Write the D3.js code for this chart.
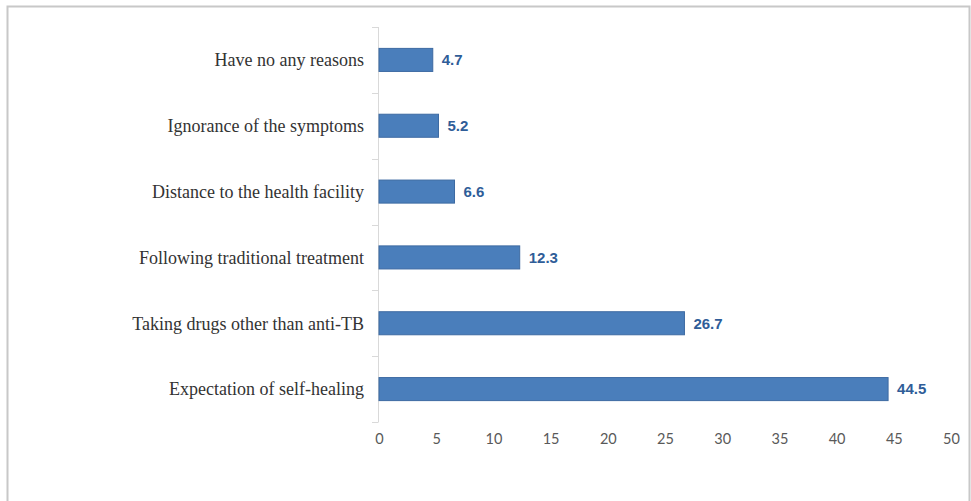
<!DOCTYPE html>
<html>
<head>
<meta charset="utf-8">
<script src="https://cdn.jsdelivr.net/npm/d3@7"></script>
<style>
  html, body { margin: 0; padding: 0; background: #fff; }
  svg { display: block; }
</style>
</head>
<body>
<svg id="chart" width="971" height="501"></svg>
<script>
// Reasons for delay, listed top to bottom
const categories = [
  "Have no any reasons",
  "Ignorance of the symptoms",
  "Distance to the health facility",
  "Following traditional treatment",
  "Taking drugs other than anti-TB",
  "Expectation of self-healing"
];
const values = [4.7, 5.2, 6.6, 12.3, 26.7, 44.5];
const xTicks = [0, 5, 10, 15, 20, 25, 30, 35, 40, 45, 50];

const svg = d3.select("#chart");
const W = 971, H = 501;

// frame
svg.append("rect").attr("x", 0).attr("y", 0).attr("width", W).attr("height", H).attr("fill", "#fff");
svg.append("path")
  .attr("d", `M7.5,${H} V6.5 H969.5 V${H}`)
  .attr("fill", "none").attr("stroke", "#c8c8c8").attr("stroke-width", 2);

const x = d3.scaleLinear().domain([0, 50]).range([379, 951]);
const y = d3.scaleBand().domain(categories).range([27, 422])
  .paddingInner(0.65).paddingOuter(0.325);

// category axis line with boundary ticks
svg.append("line")
  .attr("x1", 378.5).attr("x2", 378.5).attr("y1", 27).attr("y2", 422)
  .attr("stroke", "#d9d9d9").attr("stroke-width", 1);
const step = y.step();
const bounds = d3.range(categories.length + 1).map(i => 27 + i * step);
svg.selectAll("line.btick").data(bounds).join("line")
  .attr("class", "btick")
  .attr("x1", 372).attr("x2", 378.5)
  .attr("y1", d => Math.round(d) + 0.5).attr("y2", d => Math.round(d) + 0.5)
  .attr("stroke", "#d9d9d9");

// category labels
svg.selectAll("text.cat").data(categories).join("text")
  .attr("class", "cat")
  .attr("x", 364)
  .attr("y", d => y(d) + y.bandwidth() / 2)
  .attr("dy", "0.35em")
  .attr("text-anchor", "end")
  .attr("font-family", "'Liberation Serif', 'Times New Roman', serif")
  .attr("font-size", 18)
  .attr("fill", "#333")
  .text(d => d);

// bars
svg.selectAll("rect.bar").data(values).join("rect")
  .attr("class", "bar")
  .attr("x", x(0))
  .attr("y", (d, i) => y(categories[i]))
  .attr("width", d => x(d) - x(0))
  .attr("height", y.bandwidth())
  .attr("fill", "#4a7ebb")
  .attr("stroke", "#3d6aa2")
  .attr("stroke-width", 1);

// value labels
svg.selectAll("text.val").data(values).join("text")
  .attr("class", "val")
  .attr("x", d => x(d) + 9)
  .attr("y", (d, i) => y(categories[i]) + y.bandwidth() / 2)
  .attr("dy", "0.35em")
  .attr("font-family", "'Liberation Sans Narrow', 'Arial Narrow', 'Liberation Sans', sans-serif")
  .attr("font-weight", "bold")
  .attr("font-size", 15)
  .attr("fill", "#2f5d98")
  .text(d => d.toFixed(1));

// value axis labels (no axis line)
const xAxis = d3.axisBottom(x).tickValues(xTicks).tickSize(0).tickPadding(0);
const gx = svg.append("g").attr("transform", "translate(0,434)").call(xAxis);
gx.select(".domain").remove();
gx.selectAll("text")
  .attr("font-family", "Lato, 'Open Sans', sans-serif")
  .attr("font-size", 14.5)
  .attr("fill", "#595959");
</script>
</body>
</html>
